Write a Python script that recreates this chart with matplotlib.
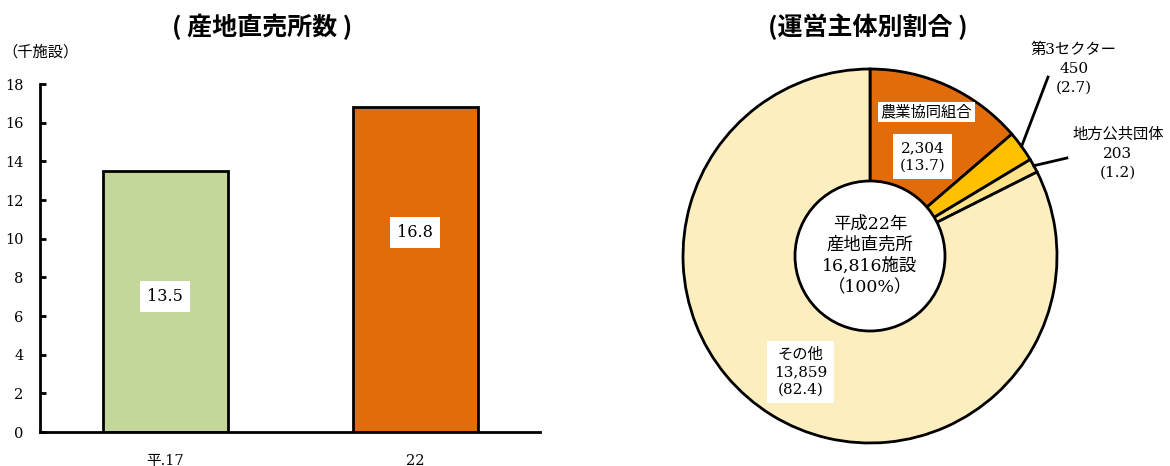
import matplotlib
matplotlib.use("Agg")
import matplotlib.pyplot as plt
import numpy as np

# 産地直売所数 (千施設)
years = ['平.17', '22']
counts = [13.5, 16.8]
bar_colors = ['#C4D79B', '#E36C0A']

# 運営主体別割合 (平成22年)
owners = ['農業協同組合', '第3セクター', '地方公共団体', 'その他']
owner_counts = [2304, 450, 203, 13859]
owner_pct = [13.7, 2.7, 1.2, 82.4]
pie_colors = ['#E36C0A', '#FFC000', '#FFE38A', '#FDEEC0']

serif = ['DejaVu Serif', 'Noto Sans CJK JP']
gothic = ['Noto Sans CJK JP', 'DejaVu Sans']
plt.rcParams['font.family'] = serif

fig = plt.figure(figsize=(11.7, 4.66), dpi=100)

# --- 棒グラフ ---
ax = fig.add_axes([40/1170, 34/466, 500/1170, 348/466])
x = np.arange(len(years))
ax.bar(x, counts, width=0.5, color=bar_colors, edgecolor='black', linewidth=2)
label_y = [7.0, 10.3]
for xi, v, ly in zip(x, counts, label_y):
    ax.text(xi, ly, f'{v}', ha='center', va='center', fontsize=11.5,
            bbox=dict(facecolor='white', edgecolor='none', pad=5))
ax.set_xlim(-0.5, 1.5)
ax.set_ylim(0, 18)
ax.set_yticks(range(0, 19, 2))
ax.set_xticks(x)
ax.set_xticklabels(years)
ax.tick_params(axis='y', direction='in', length=4, width=2, labelsize=10.5, pad=12)
ax.tick_params(axis='x', length=0, labelsize=10.5, pad=16)
for s in ['top', 'right']:
    ax.spines[s].set_visible(False)
for s in ['left', 'bottom']:
    ax.spines[s].set_linewidth(2)
fig.text(40/1170, 1 - 52/466, '（千施設）', ha='center', va='center', fontsize=11)
fig.text(262/1170, 1 - 27/466, '( 産地直売所数 )', ha='center', va='center',
         fontsize=18, fontweight='bold', family=gothic)

# --- ドーナツグラフ ---
R = 187
pax = fig.add_axes([683/1170, 23/466, 2*R/1170, 2*R/466])
wedges, _ = pax.pie(owner_counts, colors=pie_colors, startangle=90, counterclock=False,
                    wedgeprops=dict(edgecolor='black', linewidth=2))
pax.add_patch(plt.Circle((0, 0), 75/R, facecolor='white', edgecolor='black', linewidth=2, zorder=5))
pax.set_xlim(-1, 1)
pax.set_ylim(-1, 1)
pax.set_aspect('equal')
pax.axis('off')

pax.text(0, 0, '平成22年\n産地直売所\n16,816施設\n（100%）', ha='center', va='center',
         fontsize=12.5, linespacing=1.3, zorder=6)

pax.text(0.3, 0.77, owners[0], ha='center', va='center', fontsize=11,
         bbox=dict(facecolor='white', edgecolor='none', pad=2))
pax.text(0.28, 0.53, f'{owner_counts[0]:,}\n({owner_pct[0]})', ha='center', va='center',
         fontsize=11, linespacing=1.3, bbox=dict(facecolor='white', edgecolor='none', pad=5))
pax.text(-0.37, -0.62, f'{owners[3]}\n{owner_counts[3]:,}\n({owner_pct[3]})', ha='center', va='center',
         fontsize=11, linespacing=1.3, bbox=dict(facecolor='white', edgecolor='none', pad=5))

outer_text = [(1.09, 1.0), (1.326, 0.545)]
outer_line_end = [(0.952, 0.957), (1.053, 0.524)]
for i, (tpos, lend) in zip([1, 2], zip(outer_text, outer_line_end)):
    w = wedges[i]
    mid = np.deg2rad((w.theta1 + w.theta2) / 2)
    xy = (np.cos(mid), np.sin(mid))
    pax.plot([xy[0], lend[0]], [xy[1], lend[1]], color='black', linewidth=2, clip_on=False)
    pax.text(tpos[0], tpos[1], f'{owners[i]}\n{owner_counts[i]}\n({owner_pct[i]})',
             ha='center', va='center', fontsize=11, linespacing=1.45)

fig.text(868/1170, 1 - 27/466, '(運営主体別割合 )', ha='center', va='center',
         fontsize=18, fontweight='bold', family=gothic)

fig.savefig('out.png', dpi=100)
